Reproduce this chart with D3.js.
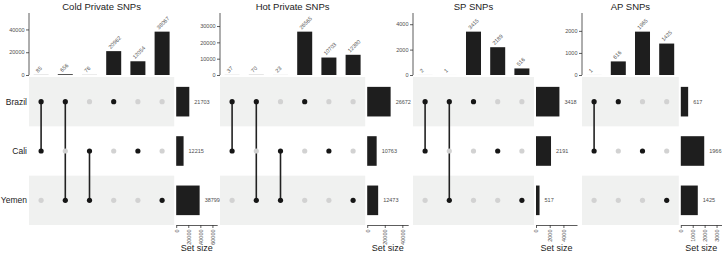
<!DOCTYPE html>
<html>
<head>
<meta charset="utf-8">
<script src="https://cdn.jsdelivr.net/npm/d3@7"></script>
<style>
  body { margin: 0; background: #fff; }
  svg { display: block; font-family: "Liberation Sans", Arial, sans-serif; }
</style>
</head>
<body>
<div id="chart"></div>
<script>
// Sets (matrix rows)
const sets = ["Brazil", "Cali", "Yemen"];

// Cold Private SNPs
const coldCombos = [["Brazil", "Cali"], ["Brazil", "Yemen"], ["Cali", "Yemen"], ["Brazil"], ["Cali"], ["Yemen"]];
const coldCounts = [85, 656, 76, 20962, 12054, 38067];
const coldSetSizes = [21703, 12215, 38799];
const coldTicks = [0, 20000, 40000];
const coldSizeTicks = [0, 20000, 40000, 60000];

// Hot Private SNPs
const hotCombos = [["Brazil", "Cali"], ["Brazil", "Yemen"], ["Cali", "Yemen"], ["Brazil"], ["Cali"], ["Yemen"]];
const hotCounts = [37, 70, 23, 26565, 10703, 12380];
const hotSetSizes = [26672, 10763, 12473];
const hotTicks = [0, 10000, 20000, 30000];
const hotSizeTicks = [0, 20000, 40000];

// SP SNPs
const spCombos = [["Brazil", "Cali"], ["Brazil", "Yemen"], ["Brazil"], ["Cali"], ["Yemen"]];
const spCounts = [2, 1, 3415, 2189, 516];
const spSetSizes = [3418, 2191, 517];
const spTicks = [0, 2000, 4000];
const spSizeTicks = [0, 2000, 4000];

// AP SNPs
const apCombos = [["Brazil", "Cali"], ["Brazil"], ["Cali"], ["Yemen"]];
const apCounts = [1, 616, 1965, 1425];
const apSetSizes = [617, 1966, 1425];
const apTicks = [0, 1000, 2000];
const apSizeTicks = [0, 1000, 2000, 3000];

const panels = [
  { title: "Cold Private SNPs", combos: coldCombos, counts: coldCounts, sizes: coldSetSizes, ticks: coldTicks, sizeTicks: coldSizeTicks, left: 29 },
  { title: "Hot Private SNPs", combos: hotCombos, counts: hotCounts, sizes: hotSetSizes, ticks: hotTicks, sizeTicks: hotSizeTicks, left: 220 },
  { title: "SP SNPs", combos: spCombos, counts: spCounts, sizes: spSetSizes, ticks: spTicks, sizeTicks: spSizeTicks, left: 413 },
  { title: "AP SNPs", combos: apCombos, counts: apCounts, sizes: apSetSizes, ticks: apTicks, sizeTicks: apSizeTicks, left: 582 }
];

const W = 722, H = 254;
const colW = 24.2, sizeW = 41;
const barTop = 13, barBottom = 75, matTop = 77, matBottom = 225;
const dark = "#1e1e1e", grey = "#4d4d4d";

const svg = d3.select("#chart")
  .append("svg")
  .attr("width", W)
  .attr("height", H);

// rows of the matrix
const row = d3.scaleBand()
  .domain(sets)
  .range([matTop, matBottom])
  .paddingInner(0.4)
  .paddingOuter(0.2);
const rowC = s => row(s) + row.bandwidth() / 2;

panels.forEach((p, pi) => {
  const n = p.combos.length;
  const x0 = p.left, x1 = p.left + n * colW;
  const g = svg.append("g");

  const x = d3.scaleBand()
    .domain(d3.range(n))
    .range([x0, x1])
    .paddingInner(0.38)
    .paddingOuter(0.19);

  const y = d3.scaleLinear()
    .domain([0, d3.max(p.counts) * 1.43])
    .range([barBottom, barTop]);

  // title
  g.append("text")
    .attr("x", (x0 + x1) / 2)
    .attr("y", 10)
    .attr("text-anchor", "middle")
    .style("font-size", "9.5px")
    .style("fill", "#222")
    .text(p.title);

  // intersection bars
  g.selectAll(".bar")
    .data(p.counts)
    .enter()
    .append("rect")
    .attr("x", (d, i) => x(i))
    .attr("y", d => y(d))
    .attr("width", x.bandwidth())
    .attr("height", d => barBottom - y(d))
    .attr("fill", dark);

  g.selectAll(".barlabel")
    .data(p.counts)
    .enter()
    .append("text")
    .attr("transform", (d, i) => `translate(${x(i) + x.bandwidth() / 2 - 3},${y(d) - 2}) rotate(-45)`)
    .style("font-size", "5.5px")
    .style("fill", grey)
    .text(d => d);

  // y axis of bars
  const ya = g.append("g")
    .attr("transform", `translate(${x0},0)`)
    .call(d3.axisLeft(y).tickValues(p.ticks).tickSize(3).tickSizeOuter(0).tickFormat(d3.format("d")));
  ya.select(".domain").attr("stroke", "#333").attr("stroke-width", 0.8)
    .attr("d", `M0,${barTop}V${barBottom}`);
  ya.selectAll(".tick line").attr("stroke", "#333").attr("stroke-width", 0.8);
  ya.selectAll(".tick text").style("font-size", "5.5px").style("fill", grey).attr("x", -4.5);

  // matrix background bands
  g.selectAll(".band")
    .data(sets.filter((s, i) => i % 2 === 0))
    .enter()
    .append("rect")
    .attr("x", x0)
    .attr("y", s => row(s) - row.step() * 0.2)
    .attr("width", x1 - x0)
    .attr("height", row.step())
    .attr("fill", "#f0f1f0");

  // connecting lines
  p.combos.forEach((c, i) => {
    if (c.length < 2) return;
    const ys = c.map(rowC);
    g.append("line")
      .attr("x1", x(i) + x.bandwidth() / 2)
      .attr("x2", x(i) + x.bandwidth() / 2)
      .attr("y1", d3.min(ys))
      .attr("y2", d3.max(ys))
      .attr("stroke", "#222")
      .attr("stroke-width", 1.6);
  });

  // dots
  p.combos.forEach((c, i) => {
    sets.forEach(s => {
      g.append("circle")
        .attr("cx", x(i) + x.bandwidth() / 2)
        .attr("cy", rowC(s))
        .attr("r", 2.6)
        .attr("fill", c.includes(s) ? "#161616" : "#d2d2d2");
    });
  });

  // set size bars
  const sx0 = x1 + 2;
  const sx = d3.scaleLinear()
    .domain([0, d3.max(p.sizes) * 1.75])
    .range([sx0, sx0 + sizeW]);

  g.selectAll(".size")
    .data(p.sizes)
    .enter()
    .append("rect")
    .attr("x", sx0)
    .attr("y", (d, i) => row(sets[i]))
    .attr("width", d => sx(d) - sx0)
    .attr("height", row.bandwidth())
    .attr("fill", dark);

  g.selectAll(".sizelabel")
    .data(p.sizes)
    .enter()
    .append("text")
    .attr("x", d => sx(d) + 5)
    .attr("y", (d, i) => rowC(sets[i]))
    .attr("dy", "0.35em")
    .style("font-size", "5.5px")
    .style("fill", grey)
    .text(d => d);

  const sa = g.append("g")
    .attr("transform", `translate(0,${matBottom})`)
    .call(d3.axisBottom(sx).tickValues(p.sizeTicks).tickSize(3).tickSizeOuter(0).tickFormat(d3.format("d")));
  sa.select(".domain").attr("stroke", "#333").attr("stroke-width", 0.8);
  sa.selectAll(".tick line").attr("stroke", "#333").attr("stroke-width", 0.8);
  sa.selectAll(".tick text")
    .attr("transform", "rotate(-90)")
    .attr("text-anchor", "end")
    .attr("x", -4.5)
    .attr("y", 0)
    .attr("dy", "0.35em")
    .style("font-size", "5.5px")
    .style("fill", grey);

  g.append("text")
    .attr("x", sx0 + sizeW / 2)
    .attr("y", 251)
    .attr("text-anchor", "middle")
    .style("font-size", "9px")
    .style("fill", "#222")
    .text("Set size");

  // row labels only on the first panel
  if (pi === 0) {
    g.selectAll(".rowlabel")
      .data(sets)
      .enter()
      .append("text")
      .attr("x", x0 - 2)
      .attr("y", s => rowC(s))
      .attr("dy", "0.35em")
      .attr("text-anchor", "end")
      .style("font-size", "8.5px")
      .style("fill", "#222")
      .text(s => s);
  }
});
</script>
</body>
</html>
